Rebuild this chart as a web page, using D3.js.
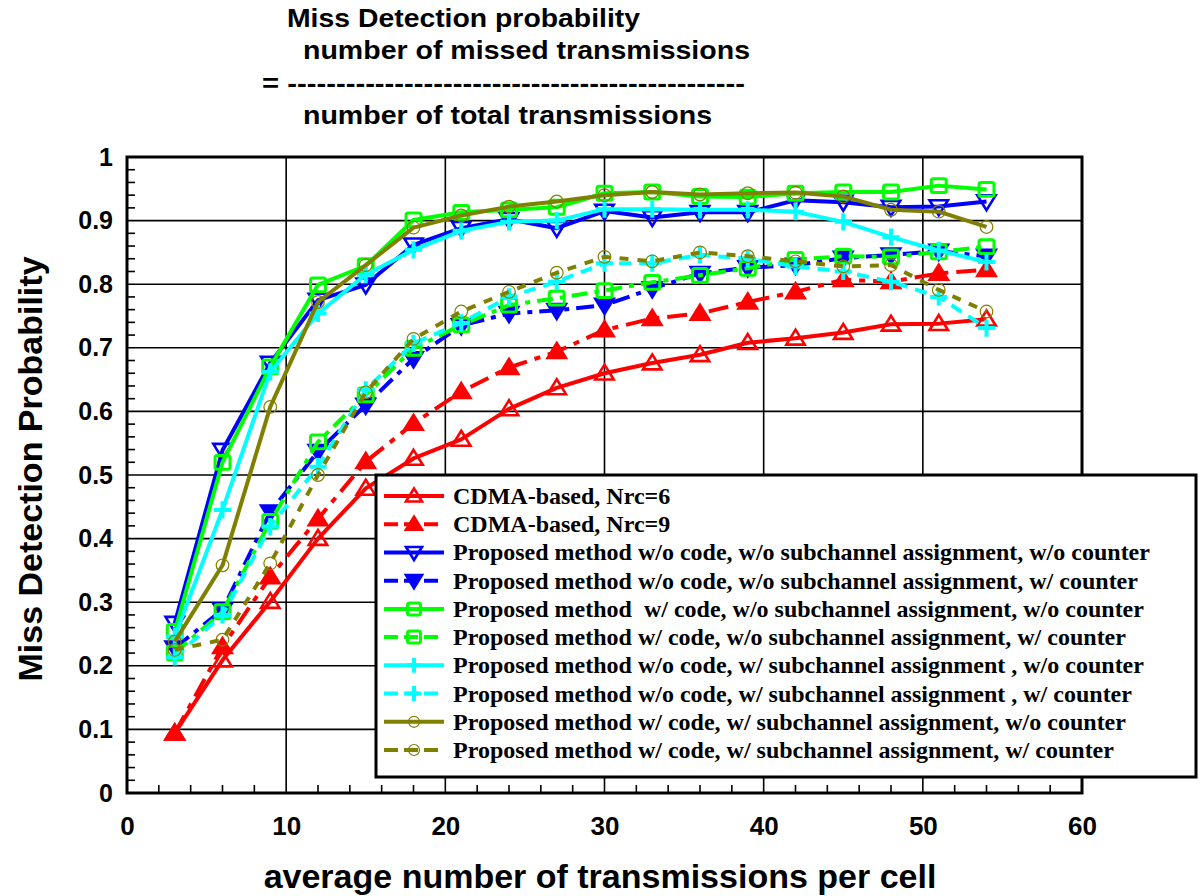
<!DOCTYPE html>
<html>
<head>
<meta charset="utf-8">
<script src="https://cdn.jsdelivr.net/npm/d3@7"></script>
<style>
  html, body { margin: 0; padding: 0; background: #fff; }
  svg { display: block; }
</style>
</head>
<body>
<svg id="chart" width="1200" height="896"></svg>
<script>
// Offered load: average number of transmissions per cell
const loads = [3, 6, 9, 12, 15, 18, 21, 24, 27, 30, 33, 36, 39, 42, 45, 48, 51, 54];

// Miss detection probability for each scheme
const cdmaNrc6      = [0.094, 0.209, 0.301, 0.400, 0.479, 0.526, 0.556, 0.604, 0.637, 0.660, 0.676, 0.689, 0.708, 0.715, 0.724, 0.737, 0.738, 0.745];
const cdmaNrc9      = [0.094, 0.230, 0.340, 0.431, 0.521, 0.581, 0.631, 0.669, 0.694, 0.728, 0.746, 0.754, 0.772, 0.788, 0.807, 0.804, 0.817, 0.823];
const noCodeNoSub   = [0.267, 0.539, 0.676, 0.775, 0.799, 0.862, 0.888, 0.902, 0.888, 0.915, 0.905, 0.913, 0.913, 0.932, 0.929, 0.921, 0.922, 0.930];
const noCodeNoSubC  = [0.228, 0.288, 0.442, 0.537, 0.610, 0.683, 0.735, 0.754, 0.759, 0.767, 0.793, 0.817, 0.826, 0.830, 0.841, 0.846, 0.852, 0.844];
const codeNoSub     = [0.254, 0.520, 0.670, 0.799, 0.829, 0.901, 0.913, 0.917, 0.921, 0.943, 0.945, 0.938, 0.937, 0.943, 0.945, 0.945, 0.955, 0.949];
const codeNoSubC    = [0.220, 0.285, 0.427, 0.552, 0.626, 0.699, 0.736, 0.767, 0.778, 0.790, 0.803, 0.814, 0.825, 0.839, 0.844, 0.843, 0.851, 0.859];
const noCodeSub     = [0.246, 0.445, 0.662, 0.754, 0.815, 0.854, 0.884, 0.898, 0.900, 0.918, 0.918, 0.917, 0.917, 0.914, 0.898, 0.874, 0.853, 0.835];
const noCodeSubC    = [0.214, 0.280, 0.419, 0.513, 0.634, 0.707, 0.739, 0.780, 0.804, 0.833, 0.833, 0.846, 0.840, 0.828, 0.820, 0.804, 0.780, 0.731];
const codeSub       = [0.238, 0.358, 0.607, 0.772, 0.830, 0.889, 0.908, 0.922, 0.930, 0.940, 0.945, 0.941, 0.943, 0.944, 0.938, 0.917, 0.914, 0.890];
const codeSubC      = [0.225, 0.241, 0.361, 0.500, 0.630, 0.714, 0.757, 0.788, 0.818, 0.843, 0.836, 0.850, 0.844, 0.836, 0.828, 0.830, 0.791, 0.757];

const seriesNames = [
  "CDMA-based, Nrc=6",
  "CDMA-based, Nrc=9",
  "Proposed method w/o code, w/o subchannel assignment, w/o counter",
  "Proposed method w/o code, w/o subchannel assignment, w/ counter",
  "Proposed method  w/ code, w/o subchannel assignment, w/o counter",
  "Proposed method w/ code, w/o subchannel assignment, w/ counter",
  "Proposed method w/o code, w/ subchannel assignment , w/o counter",
  "Proposed method w/o code, w/ subchannel assignment , w/ counter",
  "Proposed method w/ code, w/ subchannel assignment, w/o counter",
  "Proposed method w/ code, w/ subchannel assignment, w/ counter"
];
const seriesValues = [cdmaNrc6, cdmaNrc9, noCodeNoSub, noCodeNoSubC, codeNoSub, codeNoSubC, noCodeSub, noCodeSubC, codeSub, codeSubC];

const xTicks = [0, 10, 20, 30, 40, 50, 60];
const yTicks = [0, 0.1, 0.2, 0.3, 0.4, 0.5, 0.6, 0.7, 0.8, 0.9, 1];
const yTickLabels = ["0", "0.1", "0.2", "0.3", "0.4", "0.5", "0.6", "0.7", "0.8", "0.9", "1"];

const titleLines = [
  "Miss Detection probability",
  "number of missed transmissions",
  "= -----------------------------------------------",
  "number of total transmissions"
];

// ---- styling per series (kept apart from the data) ----
const styles = [
  { color: "#ff0000", dash: null,             marker: "triUp",   filled: false },
  { color: "#ff0000", dash: "20,8,6,8",       marker: "triUp",   filled: true  },
  { color: "#0000ff", dash: null,             marker: "triDown", filled: false },
  { color: "#0000ff", dash: "18,7,5,7",       marker: "triDown", filled: true  },
  { color: "#00ff00", dash: null,             marker: "square",  filled: false },
  { color: "#00ff00", dash: "16,7,5,7",       marker: "square",  filled: false },
  { color: "#00ffff", dash: null,             marker: "plus",    filled: false },
  { color: "#00ffff", dash: "12,8",           marker: "plus",    filled: false },
  { color: "#808000", dash: null,             marker: "circle",  filled: false },
  { color: "#808000", dash: "9,9",            marker: "circle",  filled: false }
];

const svg = d3.select("#chart");
const margin = { left: 127, top: 157, right: 1082, bottom: 793 };

const x = d3.scaleLinear().domain([0, 60]).range([margin.left, margin.right]);
const y = d3.scaleLinear().domain([0, 1]).range([margin.bottom, margin.top]);

// ---- formula title ----
const titleFont = "'Liberation Sans Narrow', 'Arial Narrow', 'Liberation Sans', Arial, sans-serif";
const titlePos = [
  { x: 287, y: 27, w: 353 },
  { x: 303, y: 59, w: 447 },
  { x: 262, y: 92, w: 483 },
  { x: 303, y: 124, w: 409 }
];
svg.append("g").selectAll("text").data(titleLines).join("text")
  .attr("x", (d, i) => titlePos[i].x)
  .attr("y", (d, i) => titlePos[i].y)
  .attr("textLength", (d, i) => titlePos[i].w)
  .attr("lengthAdjust", "spacingAndGlyphs")
  .style("font-family", titleFont)
  .style("font-weight", "bold")
  .style("font-size", "25px")
  .attr("fill", "#000")
  .text(d => d);

// ---- grid ----
const grid = svg.append("g");
grid.selectAll("line.gx").data(xTicks.slice(1, -1)).join("line")
  .attr("x1", d => x(d)).attr("x2", d => x(d))
  .attr("y1", margin.top).attr("y2", margin.bottom)
  .attr("stroke", "#000").attr("stroke-width", 1.6);
grid.selectAll("line.gy").data(yTicks.slice(1, -1)).join("line")
  .attr("x1", margin.left).attr("x2", margin.right)
  .attr("y1", d => y(d)).attr("y2", d => y(d))
  .attr("stroke", "#000").attr("stroke-width", 1.6);

// ---- axes ----
const axisFont = "'Liberation Sans', Arial, sans-serif";
const xAxis = d3.axisBottom(x).tickValues(xTicks).tickSize(0).tickPadding(24).tickFormat(d3.format("d"));
const yAxis = d3.axisLeft(y).tickValues(yTicks).tickSize(0).tickPadding(14).tickFormat((d, i) => yTickLabels[i]);

const gx = svg.append("g").attr("transform", `translate(0,${margin.bottom})`).call(xAxis);
const gy = svg.append("g").attr("transform", `translate(${margin.left},0)`).call(yAxis);
gx.select(".domain").remove();
gy.select(".domain").remove();
gx.selectAll("text")
  .style("font-family", axisFont).style("font-weight", "bold").style("font-size", "26px")
  .attr("fill", "#000");
gy.selectAll("text")
  .style("font-family", axisFont).style("font-weight", "bold").style("font-size", "25px")
  .attr("fill", "#000");

// minor ticks, pointing into the plot
const xMinor = d3.range(0, 61, 2).filter(v => v % 10 !== 0);
const yMinor = d3.range(0, 1.0001, 0.02).filter(v => Math.abs(v * 10 - Math.round(v * 10)) > 1e-6);
svg.append("g").selectAll("line").data(xMinor).join("line")
  .attr("x1", d => x(d)).attr("x2", d => x(d))
  .attr("y1", margin.bottom).attr("y2", margin.bottom - 8)
  .attr("stroke", "#000").attr("stroke-width", 1.6);
svg.append("g").selectAll("line").data(yMinor).join("line")
  .attr("x1", margin.left).attr("x2", margin.left + 8)
  .attr("y1", d => y(d)).attr("y2", d => y(d))
  .attr("stroke", "#000").attr("stroke-width", 1.6);

// ---- plot frame ----
svg.append("rect")
  .attr("x", margin.left).attr("y", margin.top)
  .attr("width", margin.right - margin.left)
  .attr("height", margin.bottom - margin.top)
  .attr("fill", "none").attr("stroke", "#000").attr("stroke-width", 3);

// ---- axis titles ----
svg.append("text")
  .attr("x", 600).attr("y", 888)
  .attr("text-anchor", "middle")
  .style("font-family", axisFont).style("font-weight", "bold").style("font-size", "34px")
  .text("average number of transmissions per cell");
svg.append("text")
  .attr("transform", `translate(42,469) rotate(-90)`)
  .attr("text-anchor", "middle")
  .style("font-family", axisFont).style("font-weight", "bold").style("font-size", "34px")
  .text("Miss Detection Probability");

// ---- markers ----
function drawMarker(g, type, color, filled, size) {
  const s = size;
  if (type === "triUp") {
    g.append("path").attr("d", `M0,${-s * 0.75}L${s * 0.8},${s * 0.55}L${-s * 0.8},${s * 0.55}Z`)
      .attr("fill", filled ? color : "none").attr("stroke", color).attr("stroke-width", 2.6);
  } else if (type === "triDown") {
    g.append("path").attr("d", `M0,${s * 0.75}L${s * 0.8},${-s * 0.55}L${-s * 0.8},${-s * 0.55}Z`)
      .attr("fill", filled ? color : "none").attr("stroke", color).attr("stroke-width", 2.6);
  } else if (type === "square") {
    g.append("rect").attr("x", -s * 0.65).attr("y", -s * 0.6).attr("width", s * 1.3).attr("height", s * 1.2)
      .attr("rx", 2)
      .attr("fill", "none").attr("stroke", color).attr("stroke-width", 3);
  } else if (type === "plus") {
    g.append("path").attr("d", `M${-s * 0.75},0H${s * 0.75}M0,${-s * 0.75}V${s * 0.75}`)
      .attr("fill", "none").attr("stroke", color).attr("stroke-width", 4);
  } else if (type === "circle") {
    g.append("circle").attr("r", s * 0.55)
      .attr("fill", "none").attr("stroke", color).attr("stroke-width", 1.2);
  }
}

// ---- series ----
const line = d3.line().x((d, i) => x(loads[i])).y(d => y(d));
const plot = svg.append("g");
seriesValues.forEach((vals, k) => {
  const st = styles[k];
  const g = plot.append("g");
  g.append("path").datum(vals)
    .attr("d", line)
    .attr("fill", "none")
    .attr("stroke", st.color)
    .attr("stroke-width", 4)
    .attr("stroke-dasharray", st.dash)
    .attr("stroke-linejoin", "round");
  g.selectAll("g.m").data(vals).join("g")
    .attr("transform", (d, i) => `translate(${x(loads[i])},${y(d)})`)
    .each(function () { drawMarker(d3.select(this), st.marker, st.color, st.filled, 11.5); });
});

// ---- legend ----
const legend = svg.append("g");
legend.append("rect")
  .attr("x", 376).attr("y", 475).attr("width", 820).attr("height", 302)
  .attr("fill", "#fff").attr("stroke", "#000").attr("stroke-width", 3);
const rowY = d3.scalePoint().domain(d3.range(seriesNames.length)).range([496, 750]);
seriesNames.forEach((name, k) => {
  const st = styles[k];
  const yy = rowY(k);
  legend.append("line")
    .attr("x1", 384).attr("x2", 444).attr("y1", yy).attr("y2", yy)
    .attr("stroke", st.color).attr("stroke-width", 4)
    .attr("stroke-dasharray", st.dash ? "14,6" : null);
  const mg = legend.append("g").attr("transform", `translate(414,${yy})`);
  drawMarker(mg, st.marker, st.color, st.filled, 10);
  legend.append("text")
    .attr("x", 453).attr("y", yy + 8)
    .style("font-family", "'Liberation Serif', 'Times New Roman', serif")
    .style("font-weight", "bold").style("font-size", "24px")
    .style("white-space", "pre")
    .attr("xml:space", "preserve")
    .text(name);
});
</script>
</body>
</html>
